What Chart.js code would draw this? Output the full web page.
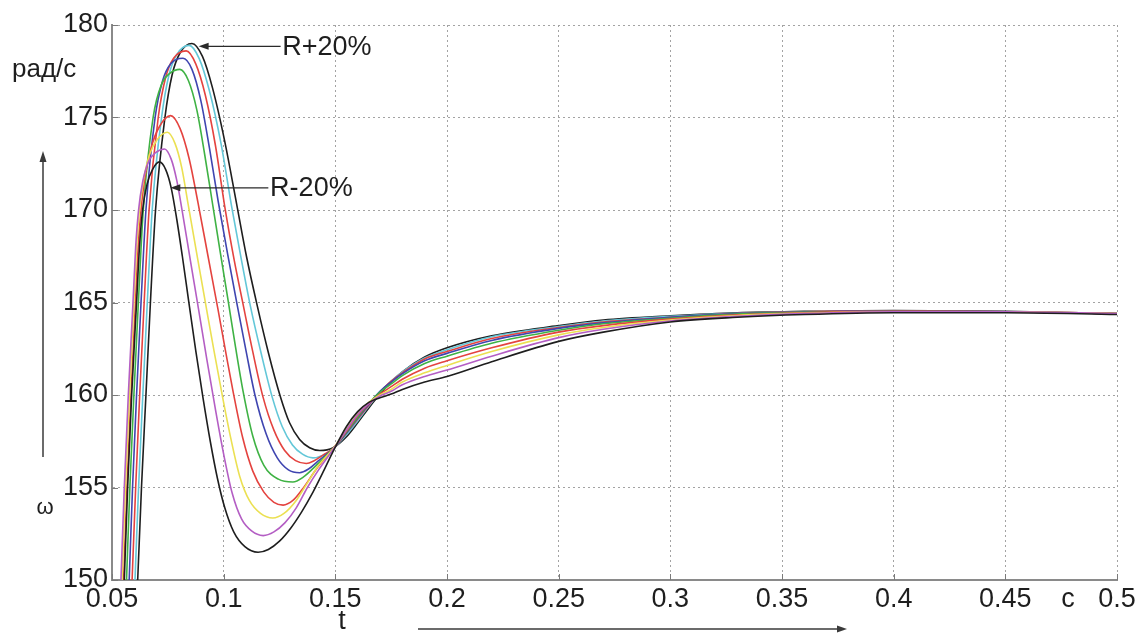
<!DOCTYPE html>
<html>
<head>
<meta charset="utf-8">
<script src="https://cdn.jsdelivr.net/npm/chart.js@4.4.1/dist/chart.umd.min.js"></script>
<style>
html,body{margin:0;padding:0;background:#ffffff;}
canvas{display:block;}
</style>
</head>
<body>
<canvas id="c" width="1140" height="635"></canvas>
<script>
// ---- axis ticks ----
const xTicks = [0.05, 0.1, 0.15, 0.2, 0.25, 0.3, 0.35, 0.4, 0.45, 0.5];
const xTickLabels = ['0.05', '0.1', '0.15', '0.2', '0.25', '0.3', '0.35', '0.4', '0.45', '0.5'];
const yTicks = [150, 155, 160, 165, 170, 175, 180];
const yTickLabels = ['150', '155', '160', '165', '170', '175', '180'];

// ---- series: time t (s) and speed w (rad/s), R from -20% (k0) to +20% (k8) ----
const seriesNames = ['R-20%', 'R-15%', 'R-10%', 'R-5%', 'R', 'R+5%', 'R+10%', 'R+15%', 'R+20%'];
const seriesColors = ['#1e1e1e', '#b45ec4', '#ebe052', '#e4433f', '#3fb244', '#3f45b0', '#e4433f', '#63c7d8', '#1e1e1e'];

const t0 = [0.0515, 0.0555, 0.0570, 0.0588, 0.0610, 0.0623, 0.0637, 0.0657, 0.0682, 0.0712, 0.0740, 0.0765, 0.0790, 0.0815, 0.0843, 0.0875, 0.0908, 0.0940, 0.0972, 0.1005, 0.1045, 0.1095, 0.1154, 0.1200, 0.1250, 0.1300, 0.1350, 0.1400, 0.1450, 0.1490, 0.155, 0.16, 0.165, 0.17, 0.175, 0.18, 0.19, 0.2, 0.22, 0.25, 0.27, 0.3, 0.33, 0.36, 0.4, 0.45, 0.5];
const w0 = [137, 150, 155, 160, 165, 168, 170, 171.4, 172.2, 172.6, 172.2, 171.2, 169.5, 167.5, 165.1, 162.4, 159.8, 157.5, 155.5, 153.9, 152.6, 151.8, 151.5, 151.65, 152.1, 152.8, 153.7, 154.75, 155.95, 156.95, 158.3, 159.1, 159.6, 159.85, 160.05, 160.3, 160.7, 161.0, 161.8, 162.9, 163.4, 163.95, 164.2, 164.35, 164.45, 164.45, 164.35];

const t1 = [0.0500, 0.0540, 0.0555, 0.0573, 0.0594, 0.0606, 0.0619, 0.0637, 0.0663, 0.0695, 0.0735, 0.0765, 0.0790, 0.0815, 0.0852, 0.0888, 0.0925, 0.0962, 0.1000, 0.1038, 0.1080, 0.1125, 0.1177, 0.1225, 0.1275, 0.1325, 0.1375, 0.1425, 0.149, 0.155, 0.16, 0.165, 0.17, 0.175, 0.18, 0.19, 0.2, 0.22, 0.25, 0.27, 0.3, 0.33, 0.36, 0.4, 0.45, 0.5];
const w1 = [137, 150, 155, 160, 165, 168, 170, 171.5, 172.6, 173.1, 173.3, 172.75, 171.6, 169.9, 167.2, 164.6, 161.9, 159.3, 156.8, 154.7, 153.3, 152.65, 152.4, 152.6, 153.1, 153.9, 155.0, 155.95, 157.05, 158.1, 158.95, 159.55, 159.95, 160.2, 160.55, 161.0, 161.35, 162.1, 163.1, 163.55, 164.0, 164.25, 164.4, 164.5, 164.5, 164.4];

const t2 = [0.0505, 0.0545, 0.0560, 0.0578, 0.0598, 0.0610, 0.0623, 0.0641, 0.0668, 0.0702, 0.0748, 0.0782, 0.0812, 0.0841, 0.0883, 0.0921, 0.0958, 0.0995, 0.1033, 0.1072, 0.1115, 0.1165, 0.1220, 0.1270, 0.1325, 0.1375, 0.1425, 0.149, 0.155, 0.16, 0.165, 0.17, 0.175, 0.18, 0.19, 0.2, 0.22, 0.25, 0.27, 0.3, 0.33, 0.36, 0.4, 0.45, 0.5];
const w2 = [137, 150, 155, 160, 165, 168, 170, 171.6, 173.0, 173.8, 174.2, 173.6, 172.3, 170.3, 167.4, 164.8, 162.3, 159.9, 157.6, 155.6, 154.3, 153.6, 153.35, 153.6, 154.3, 155.25, 156.2, 157.1, 158.15, 159.0, 159.6, 160.0, 160.3, 160.7, 161.2, 161.6, 162.35, 163.25, 163.65, 164.05, 164.3, 164.42, 164.5, 164.5, 164.4];

const t3 = [0.0512, 0.0552, 0.0567, 0.0585, 0.0605, 0.0617, 0.0630, 0.0648, 0.0676, 0.0712, 0.0762, 0.0805, 0.0845, 0.0885, 0.0930, 0.0975, 0.1008, 0.1042, 0.1085, 0.1130, 0.1180, 0.1225, 0.1266, 0.1310, 0.1355, 0.1415, 0.149, 0.155, 0.16, 0.165, 0.17, 0.175, 0.18, 0.19, 0.2, 0.22, 0.25, 0.27, 0.3, 0.33, 0.36, 0.4, 0.45, 0.5];
const w3 = [137, 150, 155, 160, 165, 168, 170, 171.8, 173.4, 174.5, 175.1, 174.4, 172.8, 170.4, 167.5, 164.6, 162.4, 160.2, 157.7, 155.9, 154.75, 154.2, 154.05, 154.3, 154.95, 156.0, 157.1, 158.05, 158.9, 159.55, 160.05, 160.45, 160.85, 161.45, 161.85, 162.55, 163.4, 163.75, 164.1, 164.33, 164.45, 164.52, 164.5, 164.4];

const t4 = [0.0525, 0.0565, 0.0580, 0.0598, 0.0618, 0.0640, 0.0684, 0.0722, 0.0760, 0.0804, 0.0842, 0.0880, 0.0915, 0.0948, 0.0985, 0.1020, 0.1053, 0.1087, 0.1130, 0.1180, 0.1245, 0.1310, 0.1355, 0.1415, 0.149, 0.155, 0.16, 0.165, 0.17, 0.175, 0.18, 0.19, 0.2, 0.22, 0.25, 0.27, 0.3, 0.33, 0.36, 0.4, 0.45, 0.5];
const w4 = [137, 150, 155, 160, 165, 170, 175, 176.8, 177.4, 177.6, 177.0, 175.4, 173.0, 170.5, 167.7, 165.1, 162.6, 160.2, 157.8, 156.2, 155.45, 155.3, 155.55, 156.2, 157.1, 158.0, 158.8, 159.55, 160.15, 160.6, 161.05, 161.7, 162.1, 162.8, 163.5, 163.85, 164.15, 164.37, 164.47, 164.53, 164.5, 164.4];

const t5 = [0.0537, 0.0577, 0.0592, 0.0610, 0.0630, 0.0652, 0.0693, 0.0727, 0.0763, 0.0818, 0.0858, 0.0898, 0.0937, 0.0975, 0.1018, 0.1060, 0.1100, 0.1140, 0.1190, 0.1240, 0.1290, 0.1340, 0.1380, 0.1425, 0.149, 0.155, 0.16, 0.165, 0.17, 0.175, 0.18, 0.19, 0.2, 0.22, 0.25, 0.27, 0.3, 0.33, 0.36, 0.4, 0.45, 0.5];
const w5 = [137, 150, 155, 160, 165, 170, 175, 177.0, 177.9, 178.2, 177.6, 175.9, 173.3, 170.5, 167.6, 164.9, 162.4, 160.0, 157.9, 156.6, 155.95, 155.8, 156.0, 156.45, 157.1, 157.95, 158.75, 159.5, 160.2, 160.7, 161.15, 161.85, 162.25, 162.95, 163.6, 163.9, 164.2, 164.4, 164.48, 164.55, 164.5, 164.4];

const t6 = [0.0550, 0.0590, 0.0606, 0.0624, 0.0644, 0.0666, 0.0707, 0.0741, 0.0776, 0.0832, 0.0875, 0.0918, 0.0963, 0.1006, 0.1047, 0.1087, 0.1131, 0.1176, 0.1225, 0.1273, 0.1322, 0.1370, 0.1405, 0.1445, 0.149, 0.155, 0.16, 0.165, 0.17, 0.175, 0.18, 0.19, 0.2, 0.22, 0.25, 0.27, 0.3, 0.33, 0.36, 0.4, 0.45, 0.5];
const w6 = [137, 150, 155, 160, 165, 170, 175, 177.2, 178.2, 178.6, 177.9, 176.2, 173.5, 170.1, 167.3, 164.9, 162.3, 159.9, 158.1, 157.0, 156.45, 156.3, 156.45, 156.75, 157.1, 157.95, 158.7, 159.45, 160.15, 160.75, 161.2, 161.95, 162.35, 163.05, 163.65, 163.95, 164.2, 164.4, 164.5, 164.55, 164.5, 164.4];

const t7 = [0.0563, 0.0603, 0.0619, 0.0638, 0.0658, 0.0680, 0.0722, 0.0755, 0.0790, 0.0845, 0.0890, 0.0935, 0.0988, 0.1037, 0.1078, 0.1118, 0.1167, 0.1217, 0.1262, 0.1308, 0.1353, 0.1400, 0.1445, 0.149, 0.155, 0.16, 0.165, 0.17, 0.175, 0.18, 0.19, 0.2, 0.22, 0.25, 0.27, 0.3, 0.33, 0.36, 0.4, 0.45, 0.5];
const w7 = [137, 150, 155, 160, 165, 170, 175, 177.3, 178.4, 178.9, 178.2, 176.5, 173.6, 170.1, 167.4, 164.9, 162.3, 159.9, 158.3, 157.3, 156.8, 156.6, 156.75, 157.1, 157.85, 158.6, 159.4, 160.15, 160.75, 161.25, 162.0, 162.45, 163.15, 163.7, 164.0, 164.25, 164.42, 164.5, 164.55, 164.5, 164.4];

const t8 = [0.0575, 0.0615, 0.0632, 0.0652, 0.0672, 0.0695, 0.0737, 0.0769, 0.0805, 0.0858, 0.0905, 0.0950, 0.1005, 0.1060, 0.1102, 0.1149, 0.1200, 0.1253, 0.1295, 0.1340, 0.1385, 0.1430, 0.149, 0.155, 0.16, 0.165, 0.17, 0.175, 0.18, 0.19, 0.2, 0.22, 0.25, 0.27, 0.3, 0.33, 0.36, 0.4, 0.45, 0.5];
const w8 = [137, 150, 155, 160, 165, 170, 175, 177.3, 178.5, 179.0, 178.3, 176.6, 173.7, 170.2, 167.5, 164.9, 162.3, 159.95, 158.5, 157.6, 157.15, 157.0, 157.15, 157.75, 158.5, 159.3, 160.05, 160.7, 161.25, 162.05, 162.55, 163.2, 163.75, 164.05, 164.28, 164.45, 164.52, 164.57, 164.52, 164.4];

const seriesT = [t0, t1, t2, t3, t4, t5, t6, t7, t8];
const seriesW = [w0, w1, w2, w3, w4, w5, w6, w7, w8];

// ---- annotation anchors (data coordinates) ----
const plusArrowTip = [0.0888, 178.85];
const plusArrowTail = [0.1255, 178.85];
const plusLabelX = 0.1262;
const minusArrowTip = [0.0761, 171.2];
const minusArrowTail = [0.1200, 171.2];
const minusLabelX = 0.1208;

const FONT = '"Liberation Sans", Arial, sans-serif';

const datasets = seriesT.map((ts, k) => ({
  label: seriesNames[k],
  data: ts.map((t, i) => ({ x: t, y: seriesW[k][i] })),
  borderColor: seriesColors[k],
  backgroundColor: seriesColors[k],
  borderWidth: 1.6,
  pointRadius: 0,
  fill: false,
  cubicInterpolationMode: 'monotone'
}));

function arrowHead(ctx, x, y, dir) {
  ctx.beginPath();
  if (dir === 'left') { ctx.moveTo(x, y); ctx.lineTo(x + 10, y - 3.5); ctx.lineTo(x + 10, y + 3.5); }
  else if (dir === 'right') { ctx.moveTo(x, y); ctx.lineTo(x - 10, y - 3.5); ctx.lineTo(x - 10, y + 3.5); }
  else { ctx.moveTo(x, y); ctx.lineTo(x - 3.5, y + 11); ctx.lineTo(x + 3.5, y + 11); }
  ctx.closePath();
  ctx.fill();
}

const annotations = {
  id: 'annotations',
  afterDatasetsDraw(chart) {
    const { ctx, scales: { x, y }, chartArea } = chart;
    ctx.save();
    // inward tick marks
    ctx.strokeStyle = '#7a7a7a';
    ctx.lineWidth = 1;
    ctx.beginPath();
    xTicks.forEach(v => { const px = Math.round(x.getPixelForValue(v)) + 0.5; ctx.moveTo(px, chartArea.bottom); ctx.lineTo(px, chartArea.bottom - 6); });
    yTicks.forEach(v => { const py = Math.round(y.getPixelForValue(v)) + 0.5; ctx.moveTo(chartArea.left, py); ctx.lineTo(chartArea.left + 6, py); });
    ctx.stroke();

    // R+20% / R-20% pointers
    ctx.lineWidth = 1.3;
    [[plusArrowTip, plusArrowTail, plusLabelX, 'R+20%'], [minusArrowTip, minusArrowTail, minusLabelX, 'R-20%']].forEach(([tip, tail, lx, txt]) => {
      const x1 = x.getPixelForValue(tip[0]), y1 = y.getPixelForValue(tip[1]);
      const x2 = x.getPixelForValue(tail[0]);
      ctx.strokeStyle = '#2a2a2a';
      ctx.fillStyle = '#2a2a2a';
      ctx.beginPath(); ctx.moveTo(x1 + 8, y1); ctx.lineTo(x2, y1); ctx.stroke();
      arrowHead(ctx, x1, y1, 'left');
      ctx.font = '27px ' + FONT;
      ctx.fillStyle = '#1e1e1e';
      ctx.textAlign = 'left';
      ctx.textBaseline = 'middle';
      ctx.fillText(txt, x.getPixelForValue(lx), y1 + 1);
    });

    // axis captions
    ctx.fillStyle = '#1e1e1e';
    ctx.font = '26px ' + FONT;
    ctx.textAlign = 'left';
    ctx.textBaseline = 'alphabetic';
    ctx.fillText('рад/с', 12, 77);
    ctx.font = '22px ' + FONT;
    ctx.textAlign = 'center';
    ctx.textBaseline = 'middle';
    ctx.fillText('ω', 45, 508);
    ctx.font = '27px ' + FONT;
    ctx.fillText('t', 342, 622);
    ctx.fillText('c', 1068, 600);

    // direction arrows
    ctx.strokeStyle = '#3a3a3a';
    ctx.fillStyle = '#3a3a3a';
    ctx.lineWidth = 1.5;
    ctx.beginPath(); ctx.moveTo(43, 457); ctx.lineTo(43, 160); ctx.stroke();
    arrowHead(ctx, 43, 151, 'up');
    ctx.beginPath(); ctx.moveTo(418, 629); ctx.lineTo(838, 629); ctx.stroke();
    arrowHead(ctx, 847, 629, 'right');
    ctx.restore();
  }
};

new Chart(document.getElementById('c'), {
  type: 'line',
  data: { datasets },
  plugins: [annotations],
  options: {
    responsive: false,
    animation: false,
    devicePixelRatio: 1,
    layout: { padding: { left: 0, right: 23, top: 25, bottom: 0 } },
    plugins: { legend: { display: false }, tooltip: { enabled: false } },
    scales: {
      x: {
        type: 'linear',
        min: 0.05,
        max: 0.5,
        afterBuildTicks: s => { s.ticks = xTicks.map(v => ({ value: v })); },
        afterFit: s => { s.height = 55; },
        ticks: {
          callback: (v, i) => xTickLabels[i],
          font: { family: FONT, size: 27 },
          color: '#1e1e1e',
          padding: 3,
          maxRotation: 0,
          autoSkip: false
        },
        grid: { color: '#a3a3a3', lineWidth: 1, drawTicks: false },
        border: { display: true, color: '#8a8a8a', width: 2, dash: [2, 3] }
      },
      y: {
        type: 'linear',
        min: 150,
        max: 180,
        afterBuildTicks: s => { s.ticks = yTicks.map(v => ({ value: v })); },
        afterFit: s => { s.width = 112; },
        ticks: {
          callback: (v, i) => yTickLabels[i],
          font: { family: FONT, size: 27 },
          color: '#1e1e1e',
          padding: 4,
          autoSkip: false
        },
        grid: { color: '#a3a3a3', lineWidth: 1, drawTicks: false },
        border: { display: true, color: '#8a8a8a', width: 2, dash: [2, 3] }
      }
    }
  }
});
</script>
</body>
</html>
